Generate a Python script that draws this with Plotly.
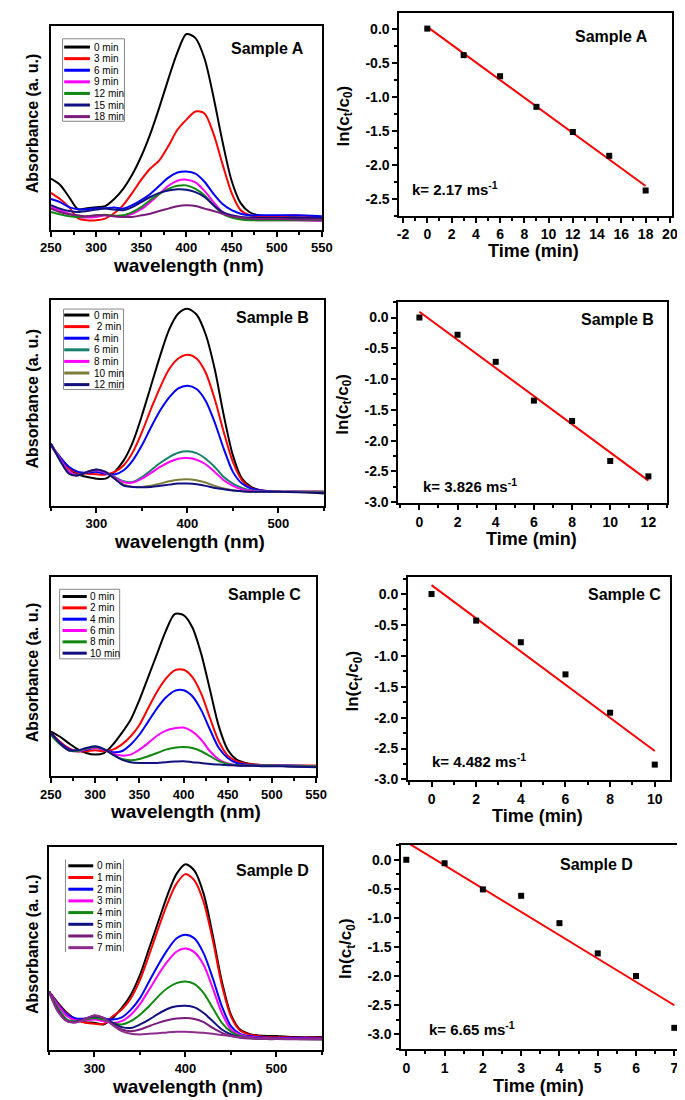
import numpy as np
import plotly.graph_objects as go

# ---------------- DATA ----------------
WL = [250, 260, 270, 280, 290, 300, 310, 320, 330, 340, 350, 360, 370, 380,
      390, 400, 410, 420, 430, 440, 450, 460, 470, 480, 490, 500, 520, 550]

# Sample A spectra (a.u.)
labels_A = ["0 min", "3 min", "6 min", "9 min", "12 min", "15 min", "18 min"]
A_0 = [0.25, 0.22, 0.16, 0.10, 0.105, 0.11, 0.115, 0.15, 0.20, 0.27, 0.36, 0.47, 0.60, 0.74, 0.87, 0.96, 0.94, 0.84, 0.65, 0.43, 0.24, 0.13, 0.085, 0.07, 0.065, 0.062, 0.06, 0.055]
A_3 = [0.18, 0.15, 0.11, 0.055, 0.046, 0.046, 0.054, 0.08, 0.12, 0.18, 0.245, 0.30, 0.34, 0.41, 0.49, 0.54, 0.58, 0.57, 0.47, 0.32, 0.18, 0.095, 0.07, 0.065, 0.065, 0.065, 0.07, 0.06]
A_6 = [0.15, 0.135, 0.11, 0.10, 0.10, 0.105, 0.105, 0.108, 0.103, 0.12, 0.145, 0.175, 0.215, 0.255, 0.28, 0.285, 0.275, 0.235, 0.175, 0.125, 0.095, 0.078, 0.07, 0.07, 0.07, 0.07, 0.07, 0.065]
A_9 = [0.11, 0.095, 0.078, 0.062, 0.059, 0.062, 0.07, 0.065, 0.065, 0.078, 0.10, 0.135, 0.175, 0.215, 0.24, 0.245, 0.232, 0.19, 0.135, 0.086, 0.062, 0.054, 0.049, 0.046, 0.046, 0.046, 0.046, 0.042]
A_12 = [0.086, 0.075, 0.065, 0.062, 0.065, 0.07, 0.073, 0.068, 0.07, 0.086, 0.11, 0.145, 0.175, 0.20, 0.215, 0.217, 0.20, 0.168, 0.12, 0.078, 0.059, 0.05, 0.046, 0.046, 0.046, 0.046, 0.046, 0.046]
A_15 = [0.12, 0.103, 0.091, 0.086, 0.091, 0.098, 0.103, 0.098, 0.095, 0.11, 0.135, 0.16, 0.18, 0.192, 0.198, 0.196, 0.184, 0.16, 0.12, 0.086, 0.07, 0.062, 0.059, 0.057, 0.057, 0.057, 0.057, 0.057]
A_18 = [0.103, 0.086, 0.075, 0.07, 0.065, 0.07, 0.07, 0.065, 0.062, 0.062, 0.07, 0.078, 0.091, 0.103, 0.115, 0.119, 0.116, 0.103, 0.091, 0.078, 0.065, 0.059, 0.054, 0.052, 0.052, 0.052, 0.05, 0.049]

# Sample B spectra
labels_B = ["0 min", " 2 min", "4 min", "6 min", "8 min", "10 min", "12 min"]
B_0 = [0.294, 0.237, 0.18, 0.152, 0.14, 0.132, 0.132, 0.165, 0.221, 0.31, 0.439, 0.584, 0.729, 0.858, 0.935, 0.958, 0.93, 0.834, 0.665, 0.439, 0.245, 0.132, 0.092, 0.076, 0.071, 0.068, 0.068, 0.06]
B_2 = [0.294, 0.229, 0.18, 0.161, 0.156, 0.153, 0.152, 0.165, 0.197, 0.261, 0.358, 0.471, 0.576, 0.665, 0.716, 0.734, 0.716, 0.648, 0.519, 0.358, 0.213, 0.124, 0.087, 0.076, 0.071, 0.068, 0.068, 0.068]
B_4 = [0.294, 0.237, 0.189, 0.165, 0.161, 0.165, 0.156, 0.152, 0.173, 0.221, 0.294, 0.382, 0.463, 0.527, 0.571, 0.584, 0.568, 0.511, 0.406, 0.277, 0.165, 0.108, 0.084, 0.076, 0.071, 0.068, 0.068, 0.068]
B_6 = [0.302, 0.229, 0.165, 0.148, 0.165, 0.173, 0.161, 0.14, 0.119, 0.116, 0.14, 0.173, 0.208, 0.237, 0.258, 0.265, 0.256, 0.229, 0.189, 0.14, 0.108, 0.087, 0.076, 0.071, 0.068, 0.068, 0.068, 0.068]
B_8 = [0.302, 0.229, 0.165, 0.148, 0.165, 0.173, 0.161, 0.137, 0.115, 0.113, 0.132, 0.16, 0.189, 0.213, 0.229, 0.232, 0.224, 0.202, 0.165, 0.124, 0.097, 0.08, 0.073, 0.07, 0.068, 0.068, 0.068, 0.068]
B_10 = [0.302, 0.221, 0.156, 0.148, 0.165, 0.177, 0.165, 0.132, 0.103, 0.092, 0.092, 0.097, 0.108, 0.119, 0.127, 0.129, 0.124, 0.113, 0.097, 0.084, 0.076, 0.071, 0.068, 0.068, 0.068, 0.068, 0.068, 0.068]
B_12 = [0.302, 0.221, 0.156, 0.148, 0.165, 0.177, 0.165, 0.132, 0.098, 0.092, 0.09, 0.092, 0.097, 0.103, 0.108, 0.108, 0.105, 0.097, 0.087, 0.081, 0.074, 0.071, 0.068, 0.068, 0.068, 0.068, 0.066, 0.064]

# Sample C spectra
labels_C = ["0 min", "2 min", "4 min", "6 min", "8 min", "10 min"]
C_0 = [0.224, 0.199, 0.166, 0.136, 0.116, 0.108, 0.116, 0.158, 0.216, 0.282, 0.382, 0.498, 0.615, 0.731, 0.815, 0.81, 0.748, 0.615, 0.432, 0.249, 0.133, 0.083, 0.066, 0.058, 0.055, 0.053, 0.05, 0.047]
C_2 = [0.219, 0.174, 0.141, 0.125, 0.125, 0.13, 0.125, 0.133, 0.158, 0.199, 0.257, 0.341, 0.424, 0.49, 0.532, 0.535, 0.498, 0.415, 0.291, 0.174, 0.103, 0.075, 0.063, 0.058, 0.055, 0.053, 0.053, 0.053]
C_4 = [0.216, 0.169, 0.136, 0.125, 0.133, 0.141, 0.133, 0.12, 0.125, 0.158, 0.208, 0.274, 0.341, 0.395, 0.429, 0.432, 0.402, 0.332, 0.233, 0.141, 0.091, 0.066, 0.058, 0.055, 0.053, 0.053, 0.053, 0.05]
C_6 = [0.208, 0.163, 0.13, 0.125, 0.136, 0.143, 0.133, 0.113, 0.103, 0.108, 0.133, 0.166, 0.203, 0.229, 0.241, 0.244, 0.224, 0.183, 0.125, 0.083, 0.063, 0.055, 0.053, 0.053, 0.053, 0.053, 0.05, 0.05]
C_8 = [0.208, 0.161, 0.13, 0.126, 0.138, 0.146, 0.136, 0.108, 0.086, 0.08, 0.086, 0.10, 0.116, 0.133, 0.143, 0.146, 0.141, 0.125, 0.10, 0.075, 0.061, 0.055, 0.053, 0.053, 0.053, 0.053, 0.05, 0.05]
C_10 = [0.216, 0.166, 0.13, 0.13, 0.141, 0.15, 0.136, 0.108, 0.083, 0.07, 0.066, 0.066, 0.066, 0.07, 0.073, 0.075, 0.07, 0.066, 0.061, 0.058, 0.055, 0.053, 0.052, 0.052, 0.05, 0.05, 0.048, 0.045]

# Sample D spectra
labels_D = ["0 min", "1 min", "2 min", "3 min", "4 min", "5 min", "6 min", "7 min"]
D_0 = [0.289, 0.232, 0.183, 0.151, 0.138, 0.135, 0.127, 0.159, 0.208, 0.273, 0.37, 0.50, 0.63, 0.76, 0.865, 0.914, 0.881, 0.768, 0.565, 0.338, 0.175, 0.102, 0.081, 0.073, 0.07, 0.07, 0.065, 0.065]
D_1 = [0.289, 0.227, 0.179, 0.151, 0.135, 0.13, 0.13, 0.167, 0.20, 0.256, 0.346, 0.468, 0.597, 0.719, 0.817, 0.865, 0.833, 0.727, 0.541, 0.321, 0.167, 0.097, 0.078, 0.07, 0.065, 0.065, 0.062, 0.062]
D_2 = [0.289, 0.224, 0.175, 0.156, 0.156, 0.159, 0.156, 0.151, 0.162, 0.20, 0.256, 0.338, 0.419, 0.492, 0.549, 0.568, 0.549, 0.476, 0.354, 0.216, 0.119, 0.081, 0.07, 0.065, 0.062, 0.062, 0.06, 0.058]
D_3 = [0.289, 0.221, 0.167, 0.146, 0.148, 0.151, 0.143, 0.135, 0.143, 0.175, 0.227, 0.297, 0.37, 0.435, 0.484, 0.50, 0.481, 0.419, 0.305, 0.183, 0.102, 0.075, 0.065, 0.062, 0.06, 0.058, 0.058, 0.057]
D_4 = [0.289, 0.208, 0.151, 0.143, 0.151, 0.159, 0.151, 0.135, 0.127, 0.143, 0.175, 0.216, 0.265, 0.305, 0.33, 0.338, 0.325, 0.281, 0.208, 0.135, 0.091, 0.07, 0.062, 0.058, 0.057, 0.057, 0.055, 0.054]
D_5 = [0.289, 0.195, 0.143, 0.14, 0.156, 0.167, 0.159, 0.135, 0.114, 0.11, 0.127, 0.151, 0.179, 0.203, 0.216, 0.219, 0.211, 0.183, 0.143, 0.102, 0.078, 0.065, 0.062, 0.058, 0.057, 0.057, 0.055, 0.054]
D_6 = [0.289, 0.19, 0.143, 0.138, 0.154, 0.17, 0.159, 0.127, 0.102, 0.094, 0.102, 0.119, 0.135, 0.148, 0.156, 0.159, 0.154, 0.138, 0.11, 0.086, 0.07, 0.062, 0.058, 0.057, 0.055, 0.055, 0.054, 0.054]
D_7 = [0.289, 0.19, 0.143, 0.138, 0.154, 0.172, 0.159, 0.123, 0.094, 0.081, 0.078, 0.081, 0.084, 0.088, 0.091, 0.091, 0.089, 0.086, 0.081, 0.075, 0.07, 0.065, 0.062, 0.058, 0.057, 0.057, 0.055, 0.054]

# Kinetics: ln(ct/c0) vs time (min)
t_A = [0, 3, 6, 9, 12, 15, 18]
ln_A = [0.0, -0.39, -0.70, -1.15, -1.52, -1.87, -2.38]
t_B = [0, 2, 4, 6, 8, 10, 12]
ln_B = [0.0, -0.28, -0.72, -1.35, -1.68, -2.33, -2.58]
t_C = [0, 2, 4, 6, 8, 10]
ln_C = [0.0, -0.43, -0.78, -1.30, -1.92, -2.76]
t_D = [0, 1, 2, 3, 4, 5, 6, 7]
ln_D = [0.0, -0.06, -0.51, -0.62, -1.09, -1.61, -2.00, -2.89]

k_texts = ["k= 2.17 ms<sup>-1</sup>", "k= 3.826 ms<sup>-1</sup>",
           "k= 4.482 ms<sup>-1</sup>", "k= 6.65 ms<sup>-1</sup>"]
sample_names = ["Sample A", "Sample B", "Sample C", "Sample D"]

# ---------------- STYLE / LAYOUT ----------------
W, H = 685, 1100
FONT = "Liberation Sans, Arial, sans-serif"


def px(x):
    return x / W


def py(y):
    return 1 - y / H


colors_A = ["#000000", "#ff0000", "#0000ff", "#ff00ff", "#118811", "#101080", "#7a1a7a"]
colors_B = ["#000000", "#ff0000", "#0000ff", "#16806a", "#ff00ff", "#7d7d3a", "#101080"]
colors_C = ["#000000", "#ff0000", "#0000ff", "#ff00ff", "#118811", "#101080"]
colors_D = ["#000000", "#ff0000", "#0000ff", "#ff00ff", "#118811", "#101080", "#7a1a7a", "#8e2c8e"]

spectra = [
    (labels_A, [A_0, A_3, A_6, A_9, A_12, A_15, A_18], colors_A),
    (labels_B, [B_0, B_2, B_4, B_6, B_8, B_10, B_12], colors_B),
    (labels_C, [C_0, C_2, C_4, C_6, C_8, C_10], colors_C),
    (labels_D, [D_0, D_1, D_2, D_3, D_4, D_5, D_6, D_7], colors_D),
]
kinetics = [(t_A, ln_A), (t_B, ln_B), (t_C, ln_C), (t_D, ln_D)]

# frame boxes in pixels: (x0, x1, ytop, ybottom)
left_boxes = [(33, 313, 18, 223), (33, 315, 294, 501), (33, 307, 573, 773), (31, 313, 844, 1049)]
right_boxes = [(393, 675, 5, 209), (392, 670, 296, 498), (402, 673, 573, 777), (395, 683, 842, 1048)]
left_dtick = [50, 100, 50, 100]
right_xrange = [(-2.3, 20.2), (-1.1, 13.0), (-1.05, 10.7), (-0.13, 7.15)]
right_yrange = [(-2.75, 0.23), (-3.01, 0.25), (-3.01, 0.27), (-3.26, 0.26)]
right_xticks = [list(range(-2, 21, 2)), list(range(0, 13, 2)), list(range(0, 11, 2)), list(range(0, 8))]
right_xminor = [1, 1, 1, 0.5]
right_yticks = [[0.0, -0.5, -1.0, -1.5, -2.0, -2.5],
                [0.0, -0.5, -1.0, -1.5, -2.0, -2.5, -3.0],
                [0.0, -0.5, -1.0, -1.5, -2.0, -2.5, -3.0],
                [0.0, -0.5, -1.0, -1.5, -2.0, -2.5, -3.0]]
# legend geometry (px): box, first row y, row step, line x0, x1, text x
legend_geo = [
    ((45, 109, 31, 114), 39.3, 11.67, 46.7, 73.3, 75),
    ((46, 108, 303, 384), 309.0, 11.67, 46.7, 72.7, 75),
    ((42, 104, 585, 655), 592.3, 11.4, 45, 70, 71),
    ((48, 108, 857, 950), 863.3, 11.77, 51, 76.7, 79),
]
sample_left_pos = [(257, 41), (262, 311), (254, 590), (262, 868)]
sample_right_pos = [(612, 29), (618, 313), (626, 590), (597, 862)]
k_pos = [(404, 182), (415, 481), (425, 757), (422, 1027)]

fig = go.Figure()
annotations = []
shapes = []
layout_axes = {}

for i in range(4):
    # --- left: spectra ---
    ax_l = 2 * i + 1
    ax_r = 2 * i + 2
    xname_l = "x" if ax_l == 1 else f"x{ax_l}"
    yname_l = "y" if ax_l == 1 else f"y{ax_l}"
    xname_r = f"x{ax_r}"
    yname_r = f"y{ax_r}"
    labels, series, cols = spectra[i]
    for lab, vals, col in zip(labels, series, cols):
        fig.add_trace(go.Scatter(x=WL, y=vals, mode="lines", name=lab,
                                 line=dict(color=col, width=2, shape="spline", smoothing=0.8),
                                 xaxis=xname_l, yaxis=yname_l, showlegend=False))
    x0, x1, yt, yb = left_boxes[i]
    xa = dict(domain=[px(x0), px(x1)], anchor=yname_l, range=[250, 550],
              tickmode="linear", tick0=0, dtick=left_dtick[i],
              ticks="outside", ticklen=5, tickwidth=2, tickcolor="black",
              minor=dict(dtick=left_dtick[i] / 2, ticks="outside", ticklen=3, tickwidth=1.5, tickcolor="black"),
              showline=True, linewidth=2, linecolor="black", mirror=True,
              showgrid=False, zeroline=False,
              tickfont=dict(family=FONT, size=13, color="black", weight="bold"))
    ya = dict(domain=[py(yb), py(yt)], anchor=xname_l, range=[0, 1],
              showticklabels=False, ticks="", showline=True, linewidth=2,
              linecolor="black", mirror=True, showgrid=False, zeroline=False)
    layout_axes["xaxis" if ax_l == 1 else f"xaxis{ax_l}"] = xa
    layout_axes["yaxis" if ax_l == 1 else f"yaxis{ax_l}"] = ya

    # legend (drawn box + samples)
    (bx0, bx1, by0, by1), ry0, rstep, lx0, lx1, tx = legend_geo[i]
    if i < 3:
        shapes.append(dict(type="rect", xref="paper", yref="paper",
                           x0=px(bx0), x1=px(bx1), y0=py(by1), y1=py(by0),
                           line=dict(color="#888888", width=1)))
    else:
        for bx in (bx0, bx1):
            shapes.append(dict(type="line", xref="paper", yref="paper",
                               x0=px(bx), x1=px(bx), y0=py(by1), y1=py(by0),
                               line=dict(color="#888888", width=1)))
    for j, (lab, col) in enumerate(zip(labels, cols)):
        yy = ry0 + j * rstep
        shapes.append(dict(type="line", xref="paper", yref="paper",
                           x0=px(lx0), x1=px(lx1), y0=py(yy), y1=py(yy),
                           line=dict(color=col, width=3)))
        annotations.append(dict(x=px(tx), y=py(yy), xref="paper", yref="paper",
                                text=lab, showarrow=False, xanchor="left", yanchor="middle",
                                font=dict(family=FONT, size=10, color="black")))

    # --- right: kinetics ---
    t, lnv = kinetics[i]
    slope, intercept = np.polyfit(t, lnv, 1)
    tfit = np.array([min(t), max(t)])
    fig.add_trace(go.Scatter(x=tfit, y=slope * tfit + intercept, mode="lines",
                             line=dict(color="#ff0000", width=2),
                             xaxis=xname_r, yaxis=yname_r, showlegend=False))
    fig.add_trace(go.Scatter(x=t, y=lnv, mode="markers",
                             marker=dict(symbol="square", size=6, color="black"),
                             xaxis=xname_r, yaxis=yname_r, showlegend=False, cliponaxis=False))
    x0, x1, yt, yb = right_boxes[i]
    xt = right_xticks[i]
    yv = right_yticks[i]
    xa = dict(domain=[px(x0), px(x1)], anchor=yname_r, range=list(right_xrange[i]),
              tickmode="array", tickvals=xt, ticktext=[str(v) for v in xt],
              ticks="outside", ticklen=5, tickwidth=2, tickcolor="black",
              minor=dict(tickmode="linear", tick0=0, dtick=right_xminor[i], ticks="outside",
                         ticklen=3, tickwidth=1.5, tickcolor="black"),
              showline=True, linewidth=2, linecolor="black", mirror=True,
              showgrid=False, zeroline=False,
              tickfont=dict(family=FONT, size=14, color="black", weight="bold"))
    ya = dict(domain=[py(yb), py(yt)], anchor=xname_r, range=list(right_yrange[i]),
              tickmode="array", tickvals=yv, ticktext=[f"{v:.1f}".replace("-0.0", "0.0") for v in yv],
              ticks="outside", ticklen=5, tickwidth=2, tickcolor="black",
              minor=dict(tickmode="linear", tick0=0, dtick=0.25, ticks="outside",
                         ticklen=3, tickwidth=1.5, tickcolor="black"),
              showline=True, linewidth=2, linecolor="black", mirror=True,
              showgrid=False, zeroline=False,
              tickfont=dict(family=FONT, size=14, color="black", weight="bold"))
    layout_axes[f"xaxis{ax_r}"] = xa
    layout_axes[f"yaxis{ax_r}"] = ya

    # titles & labels
    annotations.append(dict(x=px((x0 + x1) / 2 - 2), y=py(yb + 36) if i != 3 else py(yb + 37),
                            xref="paper", yref="paper", text="Time (min)", showarrow=False,
                            xanchor="center", yanchor="middle",
                            font=dict(family=FONT, size=18, color="black", weight="bold")))
    annotations.append(dict(x=px(x0 - 56), y=py((yt + yb) / 2 + 2), xref="paper", yref="paper",
                            text="ln(c<sub>t</sub>/c<sub>0</sub>)", textangle=-90, showarrow=False,
                            xanchor="center", yanchor="middle",
                            font=dict(family=FONT, size=17, color="black", weight="bold")))
    lx0_, lx1_, lyt, lyb = left_boxes[i]
    annotations.append(dict(x=px((lx0_ + lx1_) / 2 + 2), y=py(lyb + 36), xref="paper", yref="paper",
                            text="wavelength (nm)", showarrow=False, xanchor="center", yanchor="middle",
                            font=dict(family=FONT, size=19, color="black", weight="bold")))
    annotations.append(dict(x=px(14), y=py((lyt + lyb) / 2 - 4), xref="paper", yref="paper",
                            text="Absorbance (a. u.)", textangle=-90, showarrow=False,
                            xanchor="center", yanchor="middle",
                            font=dict(family=FONT, size=16, color="black", weight="bold")))
    sx, sy = sample_left_pos[i]
    annotations.append(dict(x=px(sx), y=py(sy), xref="paper", yref="paper", text=sample_names[i],
                            showarrow=False, xanchor="center", yanchor="middle",
                            font=dict(family=FONT, size=16, color="black", weight="bold")))
    sx, sy = sample_right_pos[i]
    annotations.append(dict(x=px(sx), y=py(sy), xref="paper", yref="paper", text=sample_names[i],
                            showarrow=False, xanchor="center", yanchor="middle",
                            font=dict(family=FONT, size=16, color="black", weight="bold")))
    kx, ky = k_pos[i]
    annotations.append(dict(x=px(kx), y=py(ky), xref="paper", yref="paper", text=k_texts[i],
                            showarrow=False, xanchor="left", yanchor="middle",
                            font=dict(family=FONT, size=15, color="black", weight="bold")))

fig.update_layout(width=W, height=H, margin=dict(l=0, r=0, t=0, b=0),
                  paper_bgcolor="white", plot_bgcolor="white", showlegend=False,
                  annotations=annotations, shapes=shapes, **layout_axes)

fig.write_html("out.html")
